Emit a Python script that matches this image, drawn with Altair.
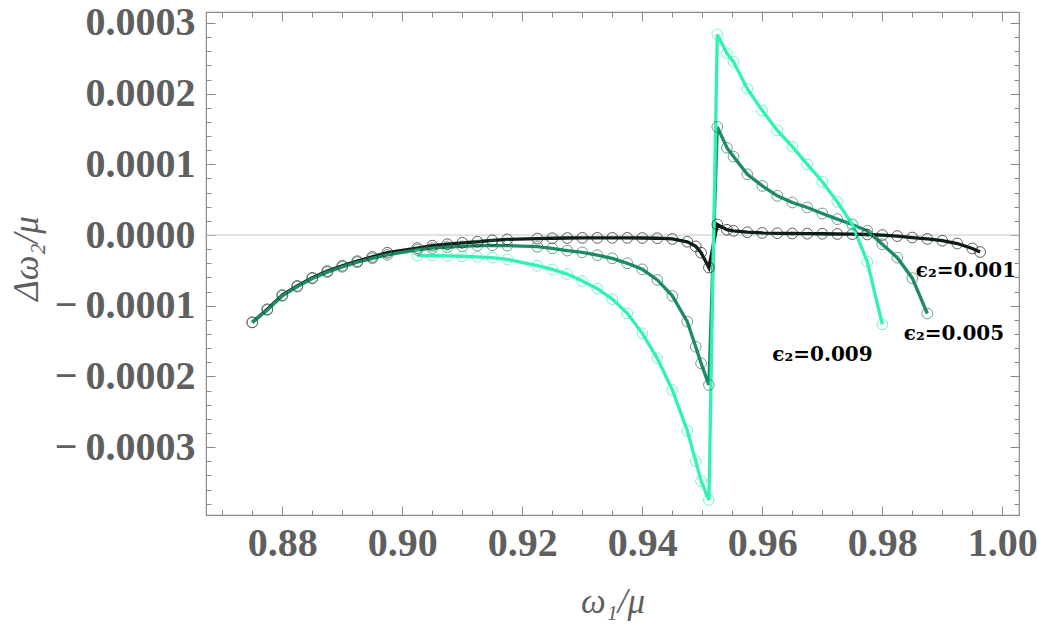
import altair as alt
import pandas as pd

# ---------------- data ----------------
x_001 = [0.875, 0.8775, 0.88, 0.8825, 0.885, 0.8875, 0.89, 0.8925, 0.895, 0.8975,
         0.9025, 0.905, 0.9075, 0.91, 0.9125, 0.915, 0.9175, 0.9225, 0.925, 0.9275,
         0.93, 0.9325, 0.935, 0.9375, 0.94, 0.9425, 0.945, 0.9475, 0.9489, 0.9498,
         0.9511, 0.9525, 0.9541, 0.9552, 0.9575, 0.96, 0.9625, 0.965, 0.9675, 0.97,
         0.9725, 0.975, 0.9775, 0.98, 0.9825, 0.985, 0.9875, 0.99, 0.9925, 0.995, 0.9963]
y_001 = [-12.35, -10.5, -8.5, -7.2, -6.05, -5.1, -4.35, -3.7, -3.1, -2.5,
         -1.85, -1.5, -1.3, -1.1, -0.95, -0.75, -0.62, -0.5, -0.45, -0.42,
         -0.4, -0.4, -0.4, -0.4, -0.42, -0.45, -0.55, -0.95, -1.6, -2.5,
         -4.6, 1.5, 0.75, 0.6, 0.4, 0.3, 0.25, 0.22, 0.2, 0.18,
         0.15, 0.12, 0.08, 0.0, -0.15, -0.35, -0.55, -0.8, -1.2, -1.9, -2.4]

x_005 = [0.875, 0.8775, 0.88, 0.8825, 0.885, 0.8875, 0.89, 0.8925, 0.895, 0.8975,
         0.9025, 0.905, 0.9075, 0.91, 0.9125, 0.915, 0.9175, 0.9225, 0.925, 0.9275,
         0.93, 0.9325, 0.935, 0.9375, 0.94, 0.9425, 0.945, 0.9475, 0.9489, 0.9498,
         0.9511, 0.9525, 0.9541, 0.9552, 0.9575, 0.96, 0.9625, 0.965, 0.9675, 0.97,
         0.9725, 0.975, 0.9775, 0.98, 0.9825, 0.985, 0.9875]
y_005 = [-12.35, -10.6, -8.6, -7.3, -6.15, -5.25, -4.5, -3.85, -3.3, -2.8,
         -2.1, -1.85, -1.7, -1.6, -1.5, -1.45, -1.5, -1.65, -1.88, -2.2,
         -2.45, -2.85, -3.3, -4.0, -4.85, -6.35, -8.6, -12.25, -15.8, -18.15,
         -21.2, 15.3, 12.35, 11.1, 8.6, 6.95, 5.55, 4.6, 3.9, 3.05,
         2.25, 1.5, 0.6, -1.3, -3.2, -6.1, -11.1]

x_009 = [0.9025, 0.905, 0.9075, 0.91, 0.9125, 0.915, 0.9175, 0.9225, 0.925, 0.9275,
         0.93, 0.9325, 0.935, 0.9375, 0.94, 0.9425, 0.945, 0.9475, 0.9489, 0.9498,
         0.9511, 0.9525, 0.9541, 0.9552, 0.9575, 0.96, 0.9625, 0.965, 0.9675, 0.97,
         0.9725, 0.975, 0.9775, 0.98]
y_009 = [-2.9, -2.92, -2.95, -3.0, -3.1, -3.2, -3.44, -4.34, -4.86, -5.52,
         -6.51, -7.59, -9.05, -11.08, -13.9, -17.44, -21.92, -27.68, -31.97, -34.8,
         -37.48, 28.38, 25.7, 24.5, 20.7, 17.6, 14.8, 12.5, 10.0, 7.54,
         4.71, 1.51, -3.78, -12.63]

series_names = ["0.001", "0.005", "0.009"]
line_colors = ["#0b1f17", "#1c8c62", "#30f2b6"]
point_colors = ["#1a1a1a", "#2c7a5a", "#30f2b6"]

label_text = ["ϵ₂=0.001", "ϵ₂=0.005", "ϵ₂=0.009"]
label_x = [0.99395, 0.99195, 0.97003]
label_y = [-0.0000509, -0.000140, -0.0001693]

x_major = [0.88, 0.90, 0.92, 0.94, 0.96, 0.98, 1.00]
y_major = [-0.0003, -0.0002, -0.0001, 0.0, 0.0001, 0.0002, 0.0003]
x_minor = [round(0.87 + 0.005 * i, 3) for i in range(27)]
y_minor = [round(-0.00038 + 0.00002 * i, 6) for i in range(35)]

# ---------------- tables ----------------
rows = []
for name, xs, ys in [("0.001", x_001, y_001), ("0.005", x_005, y_005), ("0.009", x_009, y_009)]:
    for xv, yv in zip(xs, ys):
        rows.append({"x": xv, "y": yv * 1e-5, "series": name})
df = pd.DataFrame(rows)
df_lab = pd.DataFrame({"x": label_x, "y": label_y, "label": label_text})
df_zero = pd.DataFrame({"y": [0.0]})

W, H = 813, 503
xscale = alt.Scale(domain=[0.867283, 1.002783], nice=False, zero=False)
yscale = alt.Scale(domain=[-0.000396, 0.0003155], nice=False, zero=False)

GRAY = "#5f5f5f"
TICK = "#8a8a8a"

x_main = alt.Axis(
    orient="bottom", values=x_major, format=".2f", ticks=False, domain=False, grid=False,
    labelFont="Liberation Serif", labelFontWeight="bold", labelFontSize=40, labelColor=GRAY,
    labelPadding=8, labelFlush=False, labelOverlap=False,
    title="ω₁/μ", titleFont="Liberation Serif", titleFontStyle="italic", titleFontWeight="normal",
    titleFontSize=35, titleColor=GRAY, titleY=86, titleBaseline="middle",
)
y_main = alt.Axis(
    orient="left", values=y_major, ticks=False, domain=False, grid=False,
    labelExpr="datum.value < -1e-12 ? '−\u2009' + format(-datum.value, '.4f') : format(abs(datum.value), '.4f')",
    labelFont="Liberation Serif", labelFontWeight="bold", labelFontSize=40, labelColor=GRAY,
    labelPadding=11, labelOverlap=False, labelFlush=False,
    title="Δω₂/μ", titleFont="Liberation Serif", titleFontStyle="italic", titleFontWeight="normal",
    titleFontSize=35, titleColor=GRAY, titleAngle=270, titleX=-180, titleY=246,
    titleAlign="center", titleBaseline="middle",
)

color_scale = alt.Scale(domain=series_names, range=line_colors)
pcolor_scale = alt.Scale(domain=series_names, range=point_colors)

zero = alt.Chart(df_zero).mark_rule(color="#c8c8c8", strokeWidth=1).encode(
    y=alt.Y("y:Q", scale=yscale, axis=None)
)

lines = alt.Chart(df).mark_line(strokeWidth=3.3).encode(
    x=alt.X("x:Q", scale=xscale, axis=x_main),
    y=alt.Y("y:Q", scale=yscale, axis=y_main),
    color=alt.Color("series:N", scale=color_scale, legend=None),
    order="x:Q",
)

points = alt.Chart(df).mark_point(shape="circle", filled=False, size=115, strokeWidth=1).encode(
    x=alt.X("x:Q", scale=xscale, axis=None),
    y=alt.Y("y:Q", scale=yscale, axis=None),
    stroke=alt.Stroke("series:N", scale=pcolor_scale, legend=None),
)

labels = alt.Chart(df_lab).mark_text(
    font="DejaVu Serif", fontWeight="bold", fontSize=20, color="black",
    align="center", baseline="middle",
).encode(
    x=alt.X("x:Q", scale=xscale, axis=None),
    y=alt.Y("y:Q", scale=yscale, axis=None),
    text="label:N",
)


def tick_layer(xvals, yvals, xorient, yorient, xsize, ysize):
    xa = alt.Axis(orient=xorient, offset=-H, values=xvals, tickSize=xsize, tickColor=TICK,
                  tickWidth=1, labels=False, domain=False, grid=False, title=None)
    ya = alt.Axis(orient=yorient, offset=-W, values=yvals, tickSize=ysize, tickColor=TICK,
                  tickWidth=1, labels=False, domain=False, grid=False, title=None)
    return alt.Chart(df).mark_point(opacity=0).encode(
        x=alt.X("x:Q", scale=xscale, axis=xa),
        y=alt.Y("y:Q", scale=yscale, axis=ya),
    )


t1 = tick_layer(x_major, y_major, "top", "right", 9, 9)      # bottom & left edges, major
t2 = tick_layer(x_major, y_major, "bottom", "left", 9, 9)    # top & right edges, major
t3 = tick_layer(x_minor, y_minor, "top", "right", 5, 5)      # bottom & left edges, minor
t4 = tick_layer(x_minor, y_minor, "bottom", "left", 5, 5)    # top & right edges, minor

chart = alt.layer(zero, lines, points, labels, t1, t2, t3, t4).resolve_axis(
    x="independent", y="independent"
).properties(
    width=W, height=H,
    autosize=alt.AutoSizeParams(type="none"),
    padding={"left": 206, "top": 12, "right": 23, "bottom": 113},
    background="white",
).configure_view(stroke=TICK, strokeWidth=1.2)

chart.save("out.html", embed_options={"renderer": "svg", "actions": False})
